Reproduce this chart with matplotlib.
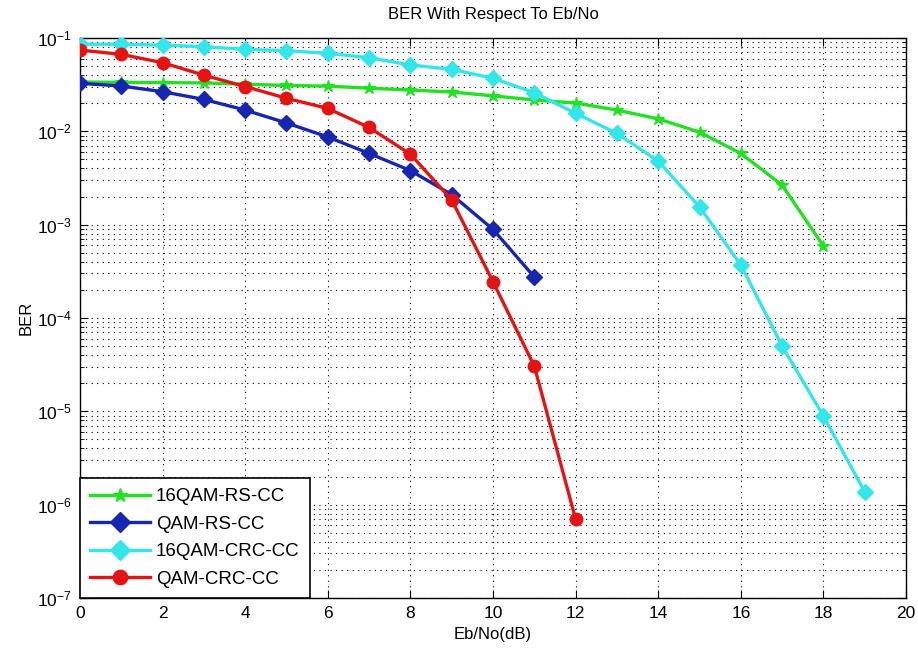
import numpy as np
import matplotlib
matplotlib.use("Agg")
import matplotlib.pyplot as plt
from matplotlib.ticker import LogLocator, FixedLocator, NullFormatter, LogFormatterMathtext

plt.rcParams["font.family"] = ["Liberation Sans", "DejaVu Sans"]
plt.rcParams["mathtext.fontset"] = "custom"
plt.rcParams["mathtext.rm"] = "Liberation Sans"
plt.rcParams["mathtext.it"] = "Liberation Sans"

# ─── Data ───────────────────────────────────────────────────────────────────
EBNO_RS16 = list(range(0, 19))
BER_RS16 = [0.0338, 0.0335, 0.0333, 0.033, 0.032, 0.031, 0.0305, 0.029, 0.0277,
            0.0264, 0.024, 0.0217, 0.0201, 0.0169, 0.0136, 0.0098, 0.0058,
            0.00265, 0.00059]

EBNO_RS = list(range(0, 12))
BER_RS = [0.0327, 0.0306, 0.0266, 0.022, 0.0169, 0.0123, 0.0087, 0.0058,
          0.0038, 0.0021, 0.00089, 0.000275]

EBNO_CRC16 = list(range(0, 20))
BER_CRC16 = [0.086, 0.0855, 0.084, 0.0807, 0.0756, 0.073, 0.0686, 0.0615,
             0.0514, 0.0462, 0.037, 0.026, 0.0156, 0.0095, 0.0048, 0.00155,
             0.00037, 5.0e-5, 8.9e-6, 1.37e-6]

EBNO_CRC = list(range(0, 13))
BER_CRC = [0.0743, 0.0668, 0.0544, 0.040, 0.0302, 0.0226, 0.0176, 0.011,
           0.0057, 0.00184, 0.000245, 3.05e-5, 7.0e-7]

LABELS = ["16QAM-RS-CC", "QAM-RS-CC", "16QAM-CRC-CC", "QAM-CRC-CC"]
X_TICKS = list(range(0, 21, 2))

# ─── Style ──────────────────────────────────────────────────────────────────
C_GREEN = "#22E022"
C_BLUE = "#1626B0"
C_CYAN = "#33E6EA"
C_RED = "#E41414"

fig = plt.figure(figsize=(9.18, 6.52), dpi=100, facecolor="white")
ax = fig.add_axes([0.0871, 0.0828, 0.8999, 0.8589])

ax.semilogy(EBNO_RS16, BER_RS16, color=C_GREEN, lw=2.4, marker="*", ms=9,
            label=LABELS[0], zorder=3)
ax.semilogy(EBNO_RS, BER_RS, color=C_BLUE, lw=2.4, marker="D", ms=8.5,
            label=LABELS[1], zorder=3)
ax.semilogy(EBNO_CRC16, BER_CRC16, color=C_CYAN, lw=2.4, marker="D", ms=8.5,
            label=LABELS[2], zorder=3)
ax.semilogy(EBNO_CRC, BER_CRC, color=C_RED, lw=2.4, marker="o", ms=9,
            label=LABELS[3], zorder=4)

ax.set_xlim(0, 20)
ax.set_ylim(1e-7, 1e-1)
ax.xaxis.set_major_locator(FixedLocator(X_TICKS))
ax.yaxis.set_major_locator(LogLocator(base=10, numticks=10))
ax.yaxis.set_minor_locator(LogLocator(base=10, subs=np.arange(2, 10), numticks=20))
ax.yaxis.set_minor_formatter(NullFormatter())
ax.yaxis.set_major_formatter(LogFormatterMathtext())

# MATLAB-like grid: dotted major + minor
ax.grid(True, which="major", axis="both", color="black", linestyle=(0, (1, 4)), lw=0.8)
ax.grid(True, which="minor", axis="y", color="black", linestyle=(0, (1, 4)), lw=0.8)

ax.tick_params(which="both", direction="in", top=True, right=True,
               labelsize=12.5, pad=6)
ax.tick_params(which="major", length=6)
ax.tick_params(which="minor", length=3)
for sp in ax.spines.values():
    sp.set_linewidth(1.0)

ax.set_title("BER With Respect To Eb/No", fontsize=12, pad=14)
ax.set_xlabel("Eb/No(dB)", fontsize=12, labelpad=4)
ax.set_ylabel("BER", fontsize=12, labelpad=2)

leg = ax.legend(loc="lower left", fontsize=13.5, fancybox=False, framealpha=1,
                edgecolor="black", borderaxespad=0, handlelength=3.2,
                handletextpad=0.3, borderpad=0.55, labelspacing=0.55,
                markerscale=1.15)
leg.get_frame().set_linewidth(1.2)

fig.savefig("out.png", dpi=100, facecolor="white")
